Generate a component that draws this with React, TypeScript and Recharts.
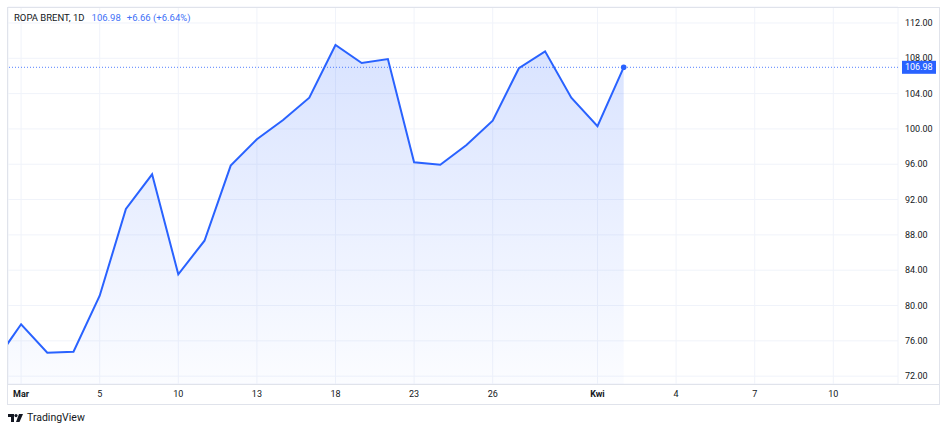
import { AreaChart, Area, XAxis, YAxis, CartesianGrid, ReferenceLine } from 'recharts';

// sesje dzienne, od 27 lutego do 2 kwietnia
const dates = [
  '27 lut', '2 mar', '3 mar', '4 mar', '5 mar', '6 mar', '9 mar', '10 mar', '11 mar', '12 mar',
  '13 mar', '16 mar', '17 mar', '18 mar', '19 mar', '20 mar', '23 mar', '24 mar', '25 mar', '26 mar',
  '27 mar', '30 mar', '31 mar', '1 kwi', '2 kwi',
];
const prices = [
  73.6, 77.88, 74.66, 74.77, 81.11, 90.93, 94.86, 83.54, 87.34, 95.84,
  98.83, 101.01, 103.54, 109.51, 107.47, 107.92, 96.22, 95.95, 98.18, 100.93,
  106.87, 108.79, 103.54, 100.32, 106.98,
];
const timeTickIndex = [1, 4, 7, 10, 13, 16, 19, 23, 26, 29, 32];
const timeTickLabels = ['Mar', '5', '10', '13', '18', '23', '26', 'Kwi', '4', '7', '10'];
const monthLabels = ['Mar', 'Kwi'];
const priceTicks = [72, 76, 80, 84, 88, 92, 96, 100, 104, 108, 112];

const data = dates.map((date, i) => ({ i, date, price: prices[i] }));
const last = prices[prices.length - 1];
const prevClose = prices[prices.length - 2];
const change = last - prevClose;

const FONT = 'Roboto, "Liberation Sans", sans-serif';
const BLUE = '#2962ff';
const TEXT = '#131722';
const BORDER = '#e0e3eb';

const TimeTick = (props: any) => {
  const { x, y, payload } = props;
  const idx = timeTickIndex.indexOf(payload.value);
  const label = idx >= 0 ? timeTickLabels[idx] : '';
  return (
    <text
      x={x}
      y={y}
      dy="0.71em"
      textAnchor="middle"
      fill={TEXT}
      fontSize={9}
      fontFamily={FONT}
      fontWeight={monthLabels.includes(label) ? 700 : 400}
    >
      {label}
    </text>
  );
};

const LastPriceLabel = (props: any) => {
  const vb = props.viewBox;
  if (!vb) return null;
  const bx = vb.x + vb.width + 4;
  return (
    <g>
      <rect x={bx} y={vb.y - 6.5} width={34} height={13} fill={BLUE} />
      <text x={bx + 3} y={vb.y} dy="0.355em" fill="#fff" fontSize={9} fontFamily={FONT}>
        {last.toFixed(2)}
      </text>
    </g>
  );
};

export default function App() {
  return (
    <div style={{ position: 'absolute', left: 0, top: 0, width: 948, height: 433, background: '#fff', fontFamily: FONT }}>
      <AreaChart
        width={948}
        height={433}
        data={data}
        margin={{ top: 7, right: 8, left: 8, bottom: 28 }}
      >
        <defs>
          <linearGradient id="brentFill" x1="0" y1="0" x2="0" y2="1">
            <stop offset="0%" stopColor={BLUE} stopOpacity={0.3} />
            <stop offset="100%" stopColor={BLUE} stopOpacity={0.03} />
          </linearGradient>
        </defs>
        <CartesianGrid stroke="#f0f3fa" />
        <XAxis
          dataKey="i"
          type="number"
          domain={[0.5, 34.47]}
          allowDataOverflow
          ticks={timeTickIndex}
          tick={<TimeTick />}
          tickSize={0}
          tickMargin={7}
          axisLine={false}
          height={21}
        />
        <YAxis
          orientation="right"
          type="number"
          domain={[71.11, 113.81]}
          allowDataOverflow
          ticks={priceTicks}
          tickFormatter={(v: number) => v.toFixed(2)}
          tick={{ fill: TEXT, fontSize: 9, fontFamily: FONT, textAnchor: 'start' }}
          tickSize={0}
          tickMargin={7}
          axisLine={false}
          width={42}
        />
        <Area
          type="linear"
          dataKey="price"
          stroke={BLUE}
          strokeWidth={2}
          fill="url(#brentFill)"
          isAnimationActive={false}
          dot={(p: any) =>
            p.index === prices.length - 1 ? (
              <circle key={p.index} cx={p.cx} cy={p.cy} r={2.8} fill={BLUE} />
            ) : (
              <g key={p.index} />
            )
          }
          activeDot={false}
        />
        <ReferenceLine
          y={last}
          stroke={BLUE}
          strokeOpacity={0.8}
          strokeDasharray="1 2"
          label={<LastPriceLabel />}
        />
      </AreaChart>

      {/* ramka wykresu i linia osi czasu */}
      <div style={{ position: 'absolute', left: 7, top: 7, width: 933, height: 398, border: `1px solid ${BORDER}`, boxSizing: 'border-box', pointerEvents: 'none' }} />
      <div style={{ position: 'absolute', left: 7, top: 384, width: 933, height: 1, background: BORDER }} />

      {/* legenda */}
      <div style={{ position: 'absolute', left: 14, top: 12, fontSize: 9.5, lineHeight: '12px', color: TEXT, whiteSpace: 'nowrap' }}>
        <span>ROPA BRENT, 1D</span>
        <span style={{ color: '#3f72f7', marginLeft: 7 }}>{last.toFixed(2)}</span>
        <span style={{ color: '#3f72f7', marginLeft: 6 }}>
          {`+${change.toFixed(2)} (+${((change / prevClose) * 100).toFixed(2)}%)`}
        </span>
      </div>

      {/* logo */}
      <div style={{ position: 'absolute', left: 8, top: 411, display: 'flex', alignItems: 'center', gap: 4, color: TEXT, fontSize: 10.5, lineHeight: '13px' }}>
        <svg width={15} height={8} viewBox="0 0 15 8">
          <path d="M0 0 H6 V8 H3 V3 H0 Z" fill={TEXT} />
          <circle cx={8} cy={1.6} r={1.6} fill={TEXT} />
          <path d="M11 0 H15 L11.5 8 H8 Z" fill={TEXT} />
        </svg>
        <span>TradingView</span>
      </div>
    </div>
  );
}
